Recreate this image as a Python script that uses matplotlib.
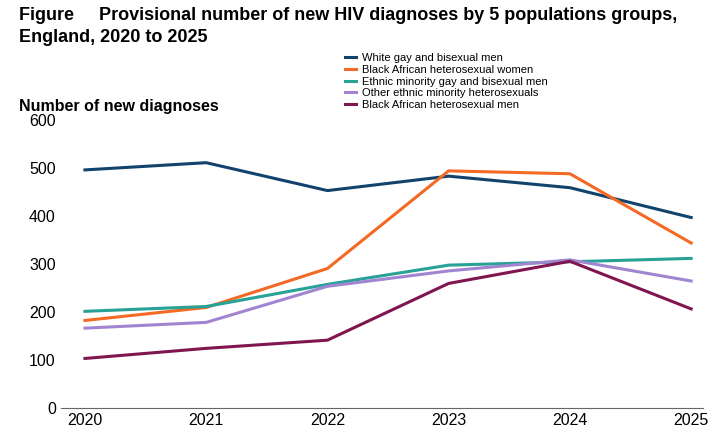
import matplotlib
matplotlib.use('Agg')
import matplotlib.pyplot as plt

plt.rcParams['font.family'] = ['Liberation Sans', 'DejaVu Sans']

years = [2020, 2021, 2022, 2023, 2024, 2025]
white_gay = [496, 511, 453, 483, 459, 397]
black_women = [183, 210, 291, 494, 488, 344]
ethnic_gay = [202, 212, 258, 298, 305, 312]
other_ethnic = [167, 179, 254, 286, 309, 265]
black_men = [104, 125, 142, 260, 306, 207]

series = [
    ('White gay and bisexual men', white_gay, '#12436D'),
    ('Black African heterosexual women', black_women, '#F46A25'),
    ('Ethnic minority gay and bisexual men', ethnic_gay, '#28A197'),
    ('Other ethnic minority heterosexuals', other_ethnic, '#A285D1'),
    ('Black African heterosexual men', black_men, '#801650'),
]

fig = plt.figure(figsize=(7.14, 4.44), dpi=100)
ax = fig.add_axes([0.085, 0.08, 0.9, 0.65])
for name, vals, col in series:
    ax.plot(years, vals, color=col, lw=2.2, label=name)

ax.set_ylim(0, 600)
ax.set_xlim(2019.8, 2025.1)
ax.set_yticks(range(0, 601, 100))
ax.set_xticks(years)
ax.tick_params(labelsize=11.5, length=0)
for s in ['top', 'right', 'left']:
    ax.spines[s].set_visible(False)
ax.spines['bottom'].set_color('#666666')

fig.text(0.027, 0.955, 'Figure     Provisional number of new HIV diagnoses by 5 populations groups,',
         fontsize=13, fontweight='bold')
fig.text(0.027, 0.905, 'England, 2020 to 2025', fontsize=13, fontweight='bold')
fig.text(0.027, 0.75, 'Number of new diagnoses', fontsize=11.5, fontweight='bold')

fig.legend(loc='upper left', bbox_to_anchor=(0.483, 0.88), frameon=False,
           fontsize=8, handlelength=1.0, labelspacing=0.15, borderaxespad=0,
           borderpad=0, handletextpad=0.5)

fig.savefig('out.png', dpi=100)
